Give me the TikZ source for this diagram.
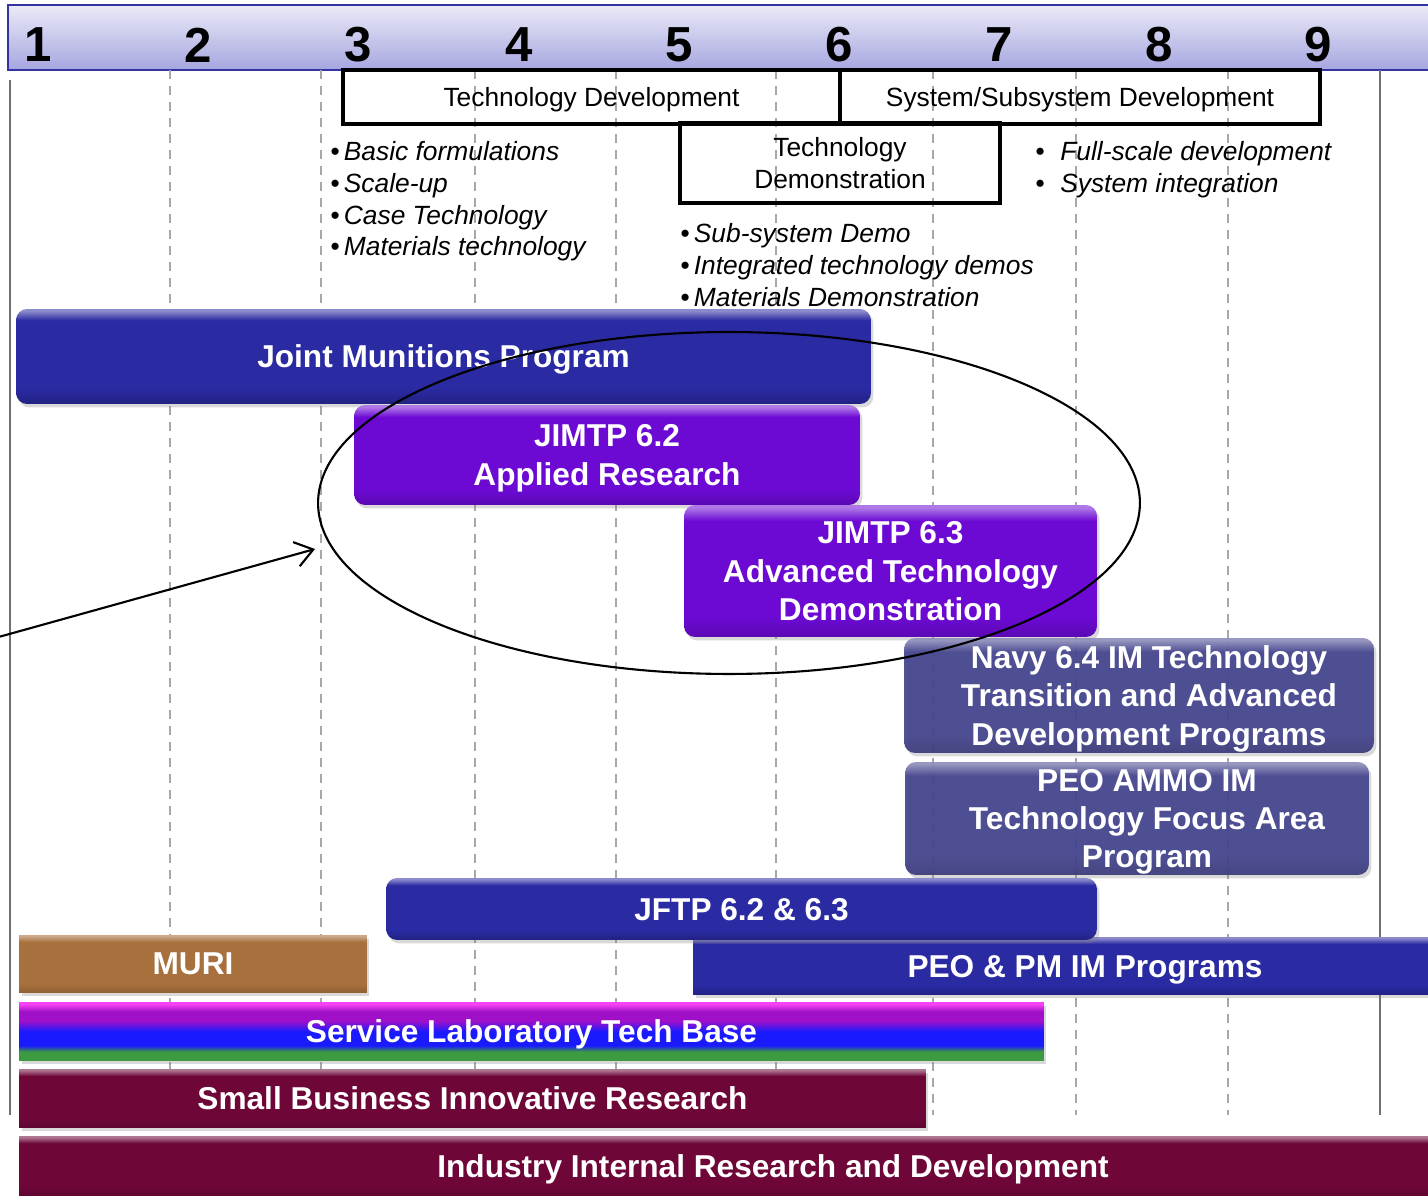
\documentclass[tikz,border=0pt]{standalone}
\usepackage{fontspec}
\setmainfont{Liberation Sans}
\usetikzlibrary{shapes.geometric,shadows,arrows.meta}

\definecolor{hdrtop}{HTML}{EAEAF8}
\definecolor{hdrbot}{HTML}{A6A6E0}
\definecolor{hdrline}{HTML}{3434A0}
\definecolor{framegray}{HTML}{707070}
\definecolor{dashgray}{HTML}{A8A8A8}
\definecolor{barblue}{HTML}{2A2AA2}
\definecolor{barviolet}{HTML}{6C0AD4}
\definecolor{barslate}{HTML}{43438E}
\definecolor{barbrown}{HTML}{A8703C}
\definecolor{barmaroon}{HTML}{6E0638}
\definecolor{labgreen}{HTML}{3C9A40}
\definecolor{labblue}{HTML}{1A1AFF}
\definecolor{labpurple}{HTML}{A010C8}
\definecolor{labmagenta}{HTML}{F442F4}
\colorlet{barhi}{barblue!55!white}
\colorlet{barmid}{barblue}
\colorlet{barlo}{barblue!80!black}

\pgfdeclareverticalshading[barhi,barmid,barlo]{glossy}{100bp}{color(0bp)=(barlo); color(25bp)=(barlo); color(33bp)=(barmid); color(69bp)=(barmid); color(74bp)=(barhi); color(100bp)=(barhi)}
\pgfdeclareverticalshading{labshade}{100bp}{color(0bp)=(labgreen); color(33bp)=(labgreen); color(38bp)=(labblue); color(50bp)=(labblue); color(59bp)=(labpurple); color(67bp)=(labpurple); color(73bp)=(labmagenta); color(100bp)=(labmagenta)}

\begin{document}
\begin{tikzpicture}[x=0.02cm,y=-0.02cm,line width=.35pt,
  fillbar/.style n args={3}{/utils/exec={\colorlet{barhi}{#1}\colorlet{barmid}{#2}\colorlet{barlo}{#3}},shading=glossy},
  bar/.style={rectangle,rounded corners=0.22cm,text=white,align=center,inner sep=0pt,text depth=0pt,
    font=\fontsize{18}{21.8}\selectfont\bfseries,
    drop shadow={shadow xshift=0.05cm,shadow yshift=-0.07cm,opacity=0.3}},
  flatbar/.style={bar,rounded corners=0pt},
  bluebar/.style={fillbar={barblue!55!white}{barblue}{barblue!80!black}},
  violetbar/.style={fillbar={barviolet!55!white}{barviolet}{barviolet!85!black}},
  slatebar/.style={fillbar={barslate!60!white}{barslate}{barslate!85!black},fill opacity=0.92,text opacity=1},
  brownbar/.style={fillbar={barbrown!60!white}{barbrown}{barbrown!85!black}},
  maroonbar/.style={fillbar={barmaroon!55!white}{barmaroon}{barmaroon!85!black}},
  num/.style={font=\fontsize{28}{30}\selectfont\bfseries,inner sep=0pt},
  phase/.style={draw,line width=2pt,font=\fontsize{15}{18.1}\selectfont,align=center,inner sep=0pt,text depth=0pt},
  notes/.style={font=\fontsize{15}{18.1}\selectfont\itshape,align=left,anchor=north west,inner sep=0pt},
  frame/.style={framegray,line width=1.1pt},
  gridline/.style={dashgray,line width=1pt,dash pattern=on 0.18cm off 0.14cm}]
\useasboundingbox (0,0) rectangle (1428,1196);

% TRL scale
\draw[draw=hdrline,line width=1pt,top color=hdrtop,bottom color=hdrbot] (8,5) rectangle (1440,70);
\node[num] (n1) at (38,45) {1};
\node[num] (n2) at (198,45) {2};
\node[num] (n3) at (358,45) {3};
\node[num] (n4) at (519,45) {4};
\node[num] (n5) at (679,45) {5};
\node[num] (n6) at (839,45) {6};
\node[num] (n7) at (999,45) {7};
\node[num] (n8) at (1159,45) {8};
\node[num] (n9) at (1318,45) {9};

\draw[frame] (10,80) -- (10,1115);
\draw[frame] (1380,70) -- (1380,1115);
\draw[gridline] (170,70) -- (170,1115);
\draw[gridline] (321,70) -- (321,1115);
\draw[gridline] (475,70) -- (475,1115);
\draw[gridline] (616,70) -- (616,1115);
\draw[gridline] (776,70) -- (776,1115);
\draw[gridline] (933,70) -- (933,1115);
\draw[gridline] (1076,70) -- (1076,1115);
\draw[gridline] (1228,70) -- (1228,1115);

% phases
\node[phase,minimum width=9.94cm,minimum height=1.08cm] (techdev) at (591.5,97) {Technology Development};
\node[phase,minimum width=9.6cm,minimum height=1.08cm] (syssub) at (1080,97) {System/Subsystem Development};
\node[phase,minimum width=6.4cm,minimum height=1.6cm] (techdemo) at (840,163) {Technology\\Demonstration};

\node[notes] (basics) at (330,141) {\textbullet\,Basic formulations\\\textbullet\,Scale-up\\\textbullet\,Case Technology\\\textbullet\,Materials technology};
\node[notes] (demos) at (680,223) {\textbullet\,Sub-system Demo\\\textbullet\,Integrated technology demos\\\textbullet\,Materials Demonstration};
\node[notes] (fullscale) at (1035,141) {\makebox[0.5cm][l]{\textbullet}Full-scale development\\\makebox[0.5cm][l]{\textbullet}System integration};

% programs
\node[bar,bluebar,minimum width=17.1cm,minimum height=1.9cm] (jmp) at (443.5,356.5) {Joint Munitions Program};
\node[bar,violetbar,minimum width=10.12cm,minimum height=2cm] (jimtp62) at (607,455) {JIMTP 6.2\\Applied Research};
\node[bar,violetbar,minimum width=8.26cm,minimum height=2.64cm] (jimtp63) at (890.5,571) {JIMTP 6.3\\Advanced Technology\\Demonstration};
\node[bar,slatebar,minimum width=9.4cm,minimum height=2.3cm] (navy64) at (1139,695.5) {\hspace*{0.4cm}Navy 6.4 IM Technology\\\hspace*{0.4cm}Transition and Advanced\\\hspace*{0.4cm}Development Programs};
\node[bar,slatebar,minimum width=9.28cm,minimum height=2.26cm] (peoammo) at (1137,818.5) {\hspace*{0.4cm}PEO AMMO IM\\\hspace*{0.4cm}Technology Focus Area\\\hspace*{0.4cm}Program};
\node[flatbar,bluebar,minimum width=15.68cm,minimum height=1.16cm] (peopm) at (1085,966) {PEO \& PM IM Programs};
\node[bar,bluebar,minimum width=14.22cm,minimum height=1.24cm] (jftp) at (741.5,909) {JFTP 6.2 \& 6.3};
\node[flatbar,brownbar,minimum width=6.96cm,minimum height=1.16cm] (muri) at (193,964) {MURI};
\node[flatbar,shading=labshade,minimum width=20.5cm,minimum height=1.18cm] (servlab) at (531.5,1031.5) {Service Laboratory Tech Base};
\node[flatbar,maroonbar,minimum width=18.14cm,minimum height=1.18cm] (sbir) at (472.5,1098.5) {Small Business Innovative Research};
\node[flatbar,maroonbar,minimum width=30.16cm,minimum height=1.2cm] (irad) at (773,1166) {Industry Internal Research and Development};

% focus of the JIMTP
\node[draw,ellipse,line width=1.2pt,minimum width=16.44cm,minimum height=6.84cm,inner sep=0pt] (focus) at (729,503) {};
\coordinate (src) at (-5,638);
\draw[-{Straight Barb[length=0.35cm,width=0.5cm]},line width=1.2pt,shorten >=0.3cm] (src) -- (focus.186);
\end{tikzpicture}
\end{document}
